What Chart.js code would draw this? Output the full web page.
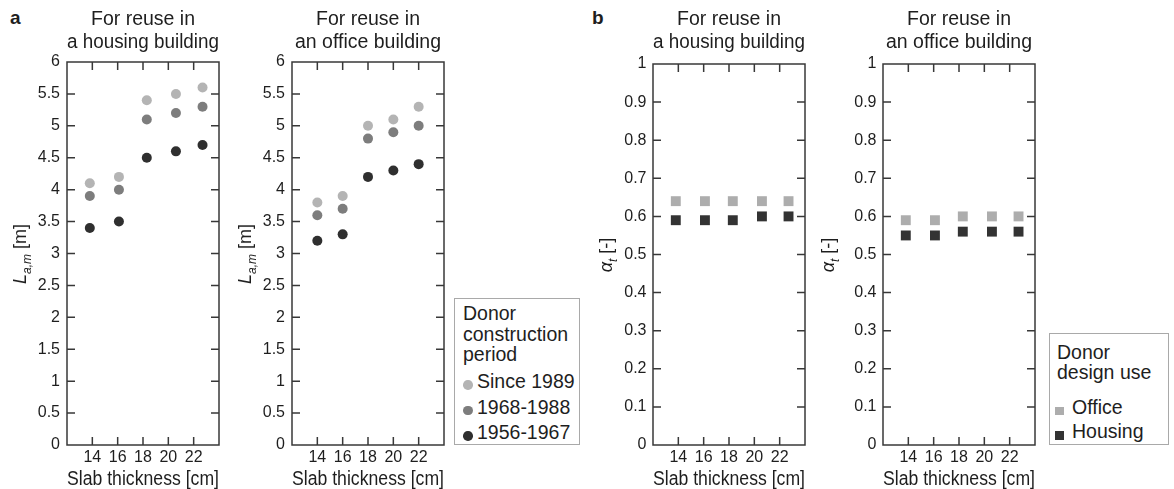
<!DOCTYPE html>
<html>
<head>
<meta charset="utf-8">
<script src="https://cdn.jsdelivr.net/npm/chart.js@4.4.1/dist/chart.umd.min.js"></script>
<style>
  html, body { margin: 0; padding: 0; background: #fff; }
  body { width: 1174px; height: 489px; position: relative; overflow: hidden;
         font-family: 'Liberation Sans', Arial, sans-serif; color: #1e1e1e; }
  .panel { position: absolute; top: 0; }
  .tag { position: absolute; top: 8px; font-weight: bold; font-size: 19px; line-height: 20px; }
  .legend { position: absolute; border: 1px solid #a9a9a9; box-sizing: border-box; background: #fff; }
  .line { position: absolute; font-size: 19.5px; line-height: 20px; white-space: nowrap; }
  .mark { position: absolute; }
  .ytitle { position: absolute; width: 0; height: 0; }
  .ytitle span { position: absolute; left: 0; top: 0; white-space: nowrap; font-size: 18px; line-height: 20px;
                 transform: translate(-50%, -50%) rotate(-90deg); }
  .ytitle .sub { font-size: 12px; font-style: italic; position: relative; top: 5px; }
</style>
</head>
<body>
<div class="tag" style="left:10px">a</div>
<div class="tag" style="left:592px">b</div>
<div class="panel" style="left:5px"><canvas id="spanHousing" width="276" height="489"></canvas></div>
<div class="panel" style="left:230px"><canvas id="spanOffice" width="276" height="489"></canvas></div>
<div class="panel" style="left:591px"><canvas id="utilHousing" width="276" height="489"></canvas></div>
<div class="panel" style="left:821px"><canvas id="utilOffice" width="276" height="489"></canvas></div>
<div class="legend" id="periodLegend" style="left:454px; top:298px; width:126px; height:147px"></div>
<div class="legend" id="useLegend" style="left:1049px; top:333px; width:120px; height:112px"></div>

<script>
// Slab thickness axis
const thicknessTicks = [14, 16, 18, 20, 22];
const markerThickness = [13.8, 16.1, 18.3, 20.6, 22.7];
const officeSpanThickness = [14, 16, 18, 20, 22];

// Tick labels of the value axes
const spanTickLabels = ['0', '0.5', '1', '1.5', '2', '2.5', '3', '3.5', '4', '4.5', '5', '5.5', '6'];
const utilTickLabels = ['0', '0.1', '0.2', '0.3', '0.4', '0.5', '0.6', '0.7', '0.8', '0.9', '1'];

// (a) maximum span L_a,m [m] by donor construction period
const periodLabels = ['Since 1989', '1968-1988', '1956-1967'];
const housingSince1989 = [4.1, 4.2, 5.4, 5.5, 5.6];
const housing1968to1988 = [3.9, 4.0, 5.1, 5.2, 5.3];
const housing1956to1967 = [3.4, 3.5, 4.5, 4.6, 4.7];
const officeSince1989 = [3.8, 3.9, 5.0, 5.1, 5.3];
const office1968to1988 = [3.6, 3.7, 4.8, 4.9, 5.0];
const office1956to1967 = [3.2, 3.3, 4.2, 4.3, 4.4];

// (b) utilisation alpha_t [-] by donor design use
const useLabels = ['Office', 'Housing'];
const housingUtilFromOffice = [0.64, 0.64, 0.64, 0.64, 0.64];
const housingUtilFromHousing = [0.59, 0.59, 0.59, 0.60, 0.60];
const officeUtilFromOffice = [0.59, 0.59, 0.60, 0.60, 0.60];
const officeUtilFromHousing = [0.55, 0.55, 0.56, 0.56, 0.56];

const FONT = "'Liberation Sans', Arial, sans-serif";
const TEXT_COLOR = '#1e1e1e';
const AXIS_COLOR = '#383838';
const periodColors = ['#b4b4b4', '#7d7d7d', '#2f2f2f'];
const useColors = ['#adadad', '#333333'];

const spanTitleHtml = '<i>L</i><span class="sub">a,m</span> [m]';
const utilTitleHtml = '<i>α</i><span class="sub">t</span> [-]';

function points(xs, ys) { return xs.map((x, i) => ({ x: x, y: ys[i] })); }

// Closed frame with inward tick marks on all four sides
const boxTicks = {
  id: 'boxTicks',
  beforeDatasetsDraw(chart) {
    const { ctx, chartArea: a, scales: { x, y } } = chart;
    const len = 8;
    ctx.save();
    ctx.strokeStyle = AXIS_COLOR;
    ctx.lineWidth = 1.5;
    ctx.beginPath();
    x.ticks.forEach(t => {
      const px = x.getPixelForValue(t.value);
      ctx.moveTo(px, a.bottom); ctx.lineTo(px, a.bottom - len);
      ctx.moveTo(px, a.top); ctx.lineTo(px, a.top + len);
    });
    y.ticks.forEach(t => {
      if (t.value <= y.min || t.value >= y.max) return;
      const py = y.getPixelForValue(t.value);
      ctx.moveTo(a.left, py); ctx.lineTo(a.left + len, py);
      ctx.moveTo(a.right, py); ctx.lineTo(a.right - len, py);
    });
    ctx.stroke();
    ctx.strokeRect(a.left, a.top, a.right - a.left, a.bottom - a.top);
    ctx.restore();
  }
};

function makePanel(canvasId, cfg) {
  const titleSize = 19.5, titleLH = 1.15, titleTop = 8.8;
  const canvas = document.getElementById(canvasId);
  const chart = new Chart(canvas, {
    type: 'scatter',
    data: {
      datasets: cfg.series.map(s => ({
        label: s.label,
        data: points(s.x, s.y),
        pointStyle: cfg.pointStyle,
        pointRadius: cfg.radius,
        pointHoverRadius: cfg.radius,
        backgroundColor: s.color,
        borderWidth: 0
      }))
    },
    options: {
      responsive: false,
      animation: false,
      events: [],
      layout: { padding: { left: 0, right: 62, top: 0, bottom: 0 } },
      plugins: {
        legend: { display: false },
        tooltip: { enabled: false },
        title: {
          display: true,
          fullSize: false,
          text: cfg.title,
          color: TEXT_COLOR,
          font: { family: FONT, size: titleSize, weight: 'normal', lineHeight: titleLH },
          padding: { top: titleTop, bottom: cfg.areaTop - titleTop - 2 * titleSize * titleLH }
        }
      },
      scales: {
        x: {
          type: 'linear', min: 12, max: 24,
          afterBuildTicks: s => { s.ticks = thicknessTicks.map(v => ({ value: v })); },
          afterFit: s => { s.height = 44; },
          grid: { display: false, drawTicks: false },
          border: { display: false },
          ticks: { color: TEXT_COLOR, padding: 3, autoSkip: false, maxRotation: 0,
                   font: { family: FONT, size: 16 } },
          title: { display: true, text: 'Slab thickness [cm]', color: TEXT_COLOR,
                   font: { family: FONT, size: 20, lineHeight: 1 }, padding: { top: 0, bottom: 0 } }
        },
        y: {
          type: 'linear', min: 0, max: cfg.yMax,
          afterBuildTicks: s => { s.ticks = cfg.yLabels.map(l => ({ value: Number(l) })); },
          afterFit: s => { s.width = 62; },
          grid: { display: false, drawTicks: false },
          border: { display: false },
          ticks: { color: TEXT_COLOR, padding: cfg.yPad, autoSkip: false,
                   font: { family: FONT, size: 16 },
                   callback: (v, i) => cfg.yLabels[i] }
        }
      }
    },
    plugins: [boxTicks]
  });

  // rotated value-axis title, centred beside the plot frame
  const a = chart.chartArea;
  const left = canvas.parentElement.offsetLeft;
  const t = document.createElement('div');
  t.className = 'ytitle';
  t.style.left = (left + a.left - cfg.yTitleOffset) + 'px';
  t.style.top = ((a.top + a.bottom) / 2) + 'px';
  t.innerHTML = '<span>' + cfg.yTitle + '</span>';
  document.body.appendChild(t);
}

makePanel('spanHousing', {
  title: ['For reuse in', 'a housing building'], areaTop: 62, yMax: 6, yLabels: spanTickLabels,
  yTitle: spanTitleHtml, yTitleOffset: 46, yPad: 7, pointStyle: 'circle', radius: 5,
  series: [
    { label: periodLabels[0], x: markerThickness, y: housingSince1989, color: periodColors[0] },
    { label: periodLabels[1], x: markerThickness, y: housing1968to1988, color: periodColors[1] },
    { label: periodLabels[2], x: markerThickness, y: housing1956to1967, color: periodColors[2] }
  ]
});
makePanel('spanOffice', {
  title: ['For reuse in', 'an office building'], areaTop: 62, yMax: 6, yLabels: spanTickLabels,
  yTitle: spanTitleHtml, yTitleOffset: 46, yPad: 7, pointStyle: 'circle', radius: 5,
  series: [
    { label: periodLabels[0], x: officeSpanThickness, y: officeSince1989, color: periodColors[0] },
    { label: periodLabels[1], x: officeSpanThickness, y: office1968to1988, color: periodColors[1] },
    { label: periodLabels[2], x: officeSpanThickness, y: office1956to1967, color: periodColors[2] }
  ]
});
makePanel('utilHousing', {
  title: ['For reuse in', 'a housing building'], areaTop: 64, yMax: 1, yLabels: utilTickLabels,
  yTitle: utilTitleHtml, yTitleOffset: 46, yPad: 6.5, pointStyle: 'rect', radius: 7,
  series: [
    { label: useLabels[0], x: markerThickness, y: housingUtilFromOffice, color: useColors[0] },
    { label: useLabels[1], x: markerThickness, y: housingUtilFromHousing, color: useColors[1] }
  ]
});
makePanel('utilOffice', {
  title: ['For reuse in', 'an office building'], areaTop: 64, yMax: 1, yLabels: utilTickLabels,
  yTitle: utilTitleHtml, yTitleOffset: 54, yPad: 6.5, pointStyle: 'rect', radius: 7,
  series: [
    { label: useLabels[0], x: markerThickness, y: officeUtilFromOffice, color: useColors[0] },
    { label: useLabels[1], x: markerThickness, y: officeUtilFromHousing, color: useColors[1] }
  ]
});

// Boxed legends placed beside the panels
function buildLegend(id, titleLines, labels, colors, opt) {
  const box = document.getElementById(id);
  const html = [];
  titleLines.forEach((t, i) => {
    html.push('<div class="line" style="left:' + opt.titleX + 'px; top:' + (opt.titleTop + i * opt.titleStep) + 'px">' + t + '</div>');
  });
  labels.forEach((t, i) => {
    const top = opt.itemTop + i * opt.itemStep;
    const s = opt.markSize;
    html.push('<div class="mark" style="left:' + (opt.markX - s / 2) + 'px; top:' + (top + 10 + opt.markDy - s / 2) +
      'px; width:' + s + 'px; height:' + s + 'px; background:' + colors[i] +
      (opt.round ? '; border-radius:50%' : '') + '"></div>');
    html.push('<div class="line" style="left:' + opt.textX + 'px; top:' + top + 'px">' + t + '</div>');
  });
  box.innerHTML = html.join('');
}
buildLegend('periodLegend', ['Donor', 'construction', 'period'], periodLabels, periodColors,
  { titleX: 8, titleTop: 4, titleStep: 20.5, itemTop: 72, itemStep: 25.5,
    textX: 22, markX: 13, markDy: 4, markSize: 9.5, round: true });
buildLegend('useLegend', ['Donor', 'design use'], useLabels, useColors,
  { titleX: 7, titleTop: 7.5, titleStep: 20, itemTop: 62.5, itemStep: 24.5,
    textX: 22, markX: 9.5, markDy: 4.5, markSize: 8.5, round: false });
</script>
</body>
</html>
